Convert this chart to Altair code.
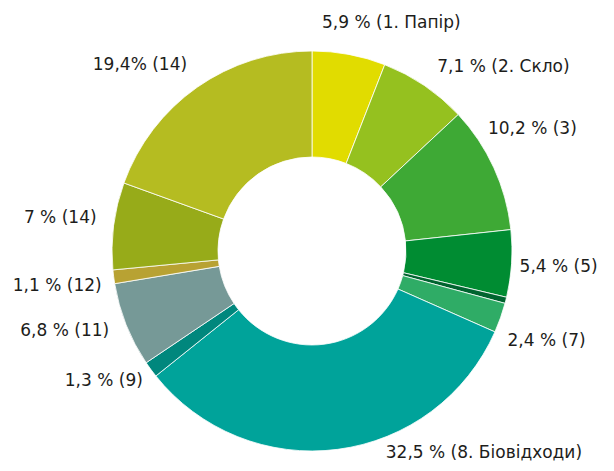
import altair as alt
import pandas as pd

# ---- data ----
categories = ["c01", "c02", "c03", "c05", "c06", "c07", "c08", "c09", "c11", "c12", "c13", "c14"]
values = [5.9, 7.1, 10.2, 5.4, 0.5, 2.4, 32.5, 1.3, 6.8, 1.1, 7.0, 19.4]
labels = [
    "5,9 % (1. Папір)", "7,1 % (2. Скло)", "10,2 % (3)", "5,4 % (5)", "",
    "2,4 % (7)", "32,5 % (8. Біовідходи)", "1,3 % (9)", "6,8 % (11)",
    "1,1 % (12)", "7 % (14)", "19,4% (14)",
]
colors = [
    "#e1dc00", "#95c11f", "#3ea935", "#008c32", "#00642f", "#2fac66",
    "#00a39a", "#00877d", "#769997", "#b8a233", "#97ab19", "#b5bc21",
]

# ---- label styling (alignment and nudges, per slice) ----
label_style = {
    "c01": ("left", -27, -31),
    "c02": ("left", 13, -18),
    "c03": ("left", -6, -39),
    "c05": ("left", 8, 3),
    "c07": ("left", 7, 23),
    "c08": ("left", 48, 4),
    "c09": ("right", -8, 12),
    "c11": ("right", -17, 6),
    "c12": ("right", -12, 9),
    "c13": ("right", -17, -8),
    "c14": ("right", -10, -22),
}

df = pd.DataFrame({
    "cat": categories,
    "value": values,
    "label": labels,
    "order": list(range(len(categories))),
})

total = float(sum(values))
theta_scale = alt.Scale(domain=[0, total], nice=False)
CX, CY = 304, 243

arcs = alt.Chart(df).mark_arc(
    innerRadius=94, outerRadius=200, stroke="white", strokeWidth=0.8
).encode(
    theta=alt.Theta("value:Q", stack=True, scale=theta_scale),
    color=alt.Color("cat:N", scale=alt.Scale(domain=categories, range=colors), legend=None),
    order=alt.Order("order:Q"),
    x=alt.value(CX),
    y=alt.value(CY),
)

layers = [arcs]
for cat, (align, dx, dy) in label_style.items():
    t = alt.Chart(df).transform_window(
        cum="sum(value)", sort=[alt.SortField("order")], frame=[None, 0]
    ).transform_calculate(
        mid="datum.cum - datum.value / 2"
    ).transform_filter(
        alt.datum.cat == cat
    ).mark_text(
        radius=200, align=align, baseline="middle", dx=dx, dy=dy,
        fontSize=17, font="DejaVu Sans", color="#1d1d1b"
    ).encode(
        theta=alt.Theta("mid:Q", scale=theta_scale),
        text="label:N",
        x=alt.value(CX),
        y=alt.value(CY),
    )
    layers.append(t)

chart = alt.layer(*layers).properties(
    width=598, height=455, padding=0,
    autosize=alt.AutoSizeParams(type="none"),
).configure_view(stroke=None)

chart.save("out.html", embed_options={"renderer": "svg", "actions": False})
